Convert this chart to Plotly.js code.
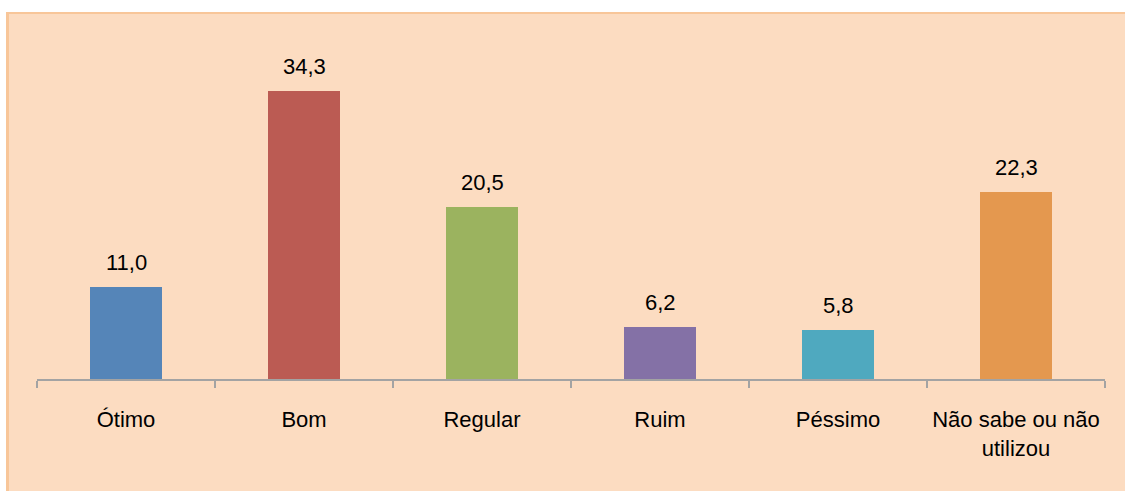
<!DOCTYPE html>
<html>
<head>
<meta charset="utf-8">
<script src="https://cdn.plot.ly/plotly-3.0.1.min.js"></script>
<style>
  html, body { margin: 0; padding: 0; background: #ffffff; overflow: hidden; width: 1125px; height: 491px; }
  #bg { position: absolute; left: 6px; top: 12px; width: 1130px; height: 490px;
        background: #FCDCC1; border-top: 2px solid #F8C699; border-left: 3px solid #F8C699; }
  #chart { position: absolute; left: 0; top: 0; width: 1125px; height: 491px; }
</style>
</head>
<body>
<div id="bg"></div>
<div id="chart"></div>
<script>
const categories = ["Ótimo", "Bom", "Regular", "Ruim", "Péssimo", "Não sabe ou não<br>utilizou"];
const values = [11.0, 34.3, 20.5, 6.2, 5.8, 22.3];
const barColors = ["#5585B8", "#BB5B53", "#9BB35F", "#8471A6", "#4FA9BF", "#E4984F"];

const fmt = v => v.toFixed(1).replace('.', ',');

const trace = {
  type: 'bar',
  x: categories,
  y: values,
  marker: { color: barColors, line: { width: 0 } },
  width: 0.405,
  hoverinfo: 'skip'
};

const annotations = categories.map((c, i) => ({
  x: c, y: values[i], xref: 'x', yref: 'y',
  text: fmt(values[i]), showarrow: false,
  yanchor: 'bottom', yshift: 10,
  font: { family: 'Liberation Sans, Arial, sans-serif', size: 22, color: '#000000' }
}));

const layout = {
  width: 1125, height: 491,
  margin: { l: 37, r: 20, t: 43, b: 112, pad: 0 },
  paper_bgcolor: 'rgba(0,0,0,0)',
  plot_bgcolor: 'rgba(0,0,0,0)',
  showlegend: false,
  bargap: 0,
  xaxis: {
    type: 'category',
    range: [-0.5, 5.5],
    showline: true, linecolor: '#A3A3A3', linewidth: 2,
    ticks: 'outside', tickson: 'boundaries', ticklen: 7, tickwidth: 2, tickcolor: '#A3A3A3',
    ticklabelstandoff: 20,
    showgrid: false, zeroline: false,
    tickfont: { family: 'Liberation Sans, Arial, sans-serif', size: 22, color: '#000000' },
    fixedrange: true
  },
  yaxis: {
    range: [0, 40],
    visible: false, showgrid: false, zeroline: false, fixedrange: true
  },
  annotations: annotations
};

Plotly.newPlot('chart', [trace], layout, { displayModeBar: false, staticPlot: true });
</script>
</body>
</html>
